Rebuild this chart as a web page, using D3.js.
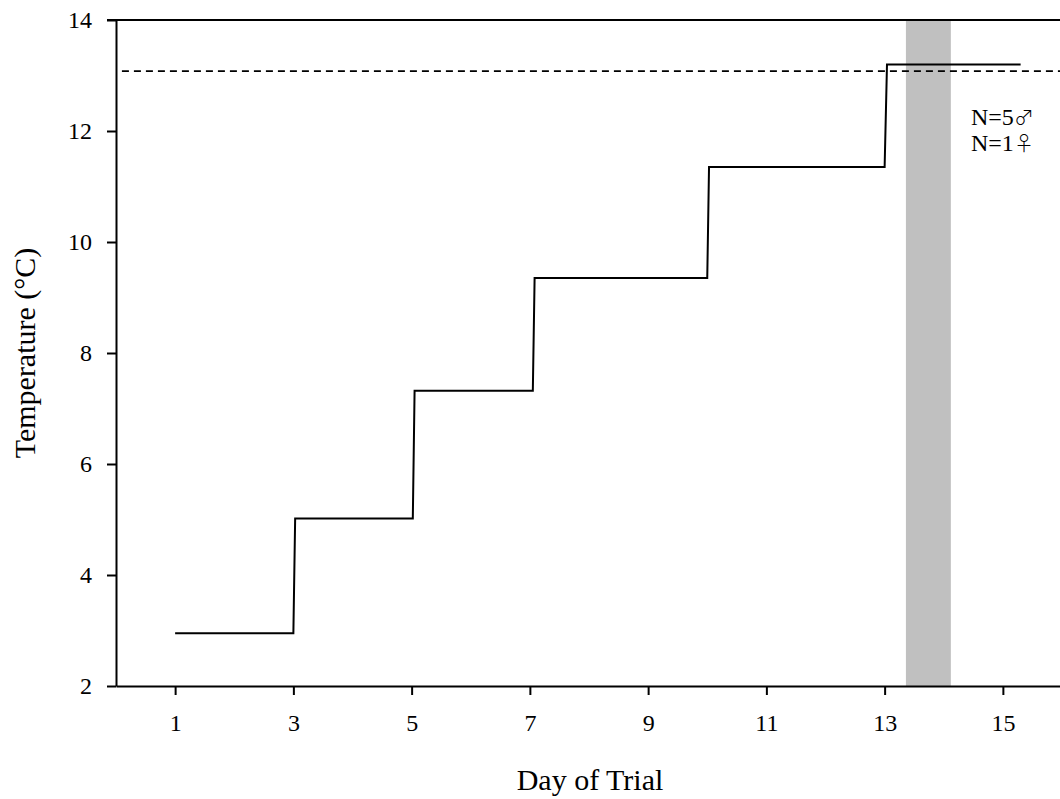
<!DOCTYPE html>
<html>
<head>
<meta charset="utf-8">
<script src="https://cdn.jsdelivr.net/npm/d3@7"></script>
<style>
  body { margin: 0; background: #fff; }
  svg text { font-family: "Liberation Serif", "Times New Roman", serif; fill: #000; }
  svg text tspan.sym { font-family: "Noto Sans CJK JP", "DejaVu Sans", sans-serif; font-weight: 300; }
</style>
</head>
<body>
<svg id="chart"></svg>
<script>
// step profile of tank temperature
var stepDays  = [1, 3.0, 3.03, 5.02, 5.05, 7.05, 7.08, 10.0, 10.03, 13.0, 13.04, 15.3];
var stepTemps = [2.95, 2.95, 5.02, 5.02, 7.32, 7.32, 9.35, 9.35, 11.35, 11.35, 13.2, 13.2];

var thresholdTemp = 13.08;
var thresholdDays = [0.1, 16];
var bandDays = [13.36, 14.12];

var xTicks = [1, 3, 5, 7, 9, 11, 13, 15];
var yTicks = [2, 4, 6, 8, 10, 12, 14];
var sampleCounts = ["N=5", "N=1"];
var sampleSymbols = ["\u2642", "\u2640"];

var drawChart = function(target)
{
    var screen = {width: 1060, height: 799};
    var margins = {top: 20, bottom: 113, left: 116, right: -2};
    var graph =
        {
            width: screen.width - margins.left - margins.right,
            height: screen.height - margins.top - margins.bottom
        };

    var svg = d3.select(target)
        .attr("width", screen.width)
        .attr("height", screen.height);

    var xScale = d3.scaleLinear()
        .domain([0, 16])
        .range([0, graph.width]);

    var yScale = d3.scaleLinear()
        .domain([2, 14])
        .range([graph.height, 0]);

    var g = svg.append("g")
        .attr("transform", "translate(" + margins.left + "," + margins.top + ")");

    // grey band
    g.append("rect")
        .attr("x", xScale(bandDays[0]))
        .attr("y", yScale(14))
        .attr("width", xScale(bandDays[1]) - xScale(bandDays[0]))
        .attr("height", yScale(2) - yScale(14))
        .attr("fill", "#c0c0c0");

    // dashed reference line
    g.append("line")
        .attr("x1", xScale(thresholdDays[0]))
        .attr("x2", xScale(thresholdDays[1]))
        .attr("y1", yScale(thresholdTemp))
        .attr("y2", yScale(thresholdTemp))
        .attr("stroke", "#000")
        .attr("stroke-width", 1.8)
        .attr("stroke-dasharray", "7,5");

    var lineGenerator = d3.line()
        .x(function(d, i) { return xScale(stepDays[i]); })
        .y(function(d) { return yScale(d); });

    g.append("path")
        .datum(stepTemps)
        .attr("d", lineGenerator)
        .attr("fill", "none")
        .attr("stroke", "#000")
        .attr("stroke-width", 2);

    // top border
    g.append("line")
        .attr("x1", -9)
        .attr("x2", graph.width)
        .attr("y1", yScale(14))
        .attr("y2", yScale(14))
        .attr("stroke", "#000")
        .attr("stroke-width", 2);

    var xAxis = d3.axisBottom(xScale)
        .tickValues(xTicks)
        .tickSize(9)
        .tickSizeOuter(0)
        .tickPadding(19);

    var yAxis = d3.axisLeft(yScale)
        .tickValues(yTicks)
        .tickSize(9)
        .tickSizeOuter(0)
        .tickPadding(15);

    var xg = g.append("g")
        .attr("transform", "translate(0," + graph.height + ")")
        .call(xAxis);

    var yg = g.append("g")
        .call(yAxis);

    [xg, yg].forEach(function(a)
    {
        a.selectAll("path, line")
            .attr("stroke", "#000")
            .attr("stroke-width", 2);
        a.selectAll("text")
            .attr("font-size", 24)
            .attr("fill", "#000");
    });

    // sample sizes
    var labels = g.selectAll(".nlabel")
        .data(sampleCounts)
        .enter()
        .append("text")
        .classed("nlabel", true)
        .attr("x", 971 - margins.left)
        .attr("y", function(d, i) { return 125 - margins.top + i * 26; })
        .attr("font-size", 24);

    labels.append("tspan")
        .text(function(d) { return d; });

    labels.append("tspan")
        .classed("sym", true)
        .attr("font-size", 20)
        .text(function(d, i) { return sampleSymbols[i]; });

    svg.append("text")
        .attr("transform", "translate(35," + (margins.top + graph.height / 2) + ") rotate(-90)")
        .attr("text-anchor", "middle")
        .attr("font-size", 30)
        .text("Temperature (\u00B0C)");

    svg.append("text")
        .attr("x", 590)
        .attr("y", 790)
        .attr("text-anchor", "middle")
        .attr("font-size", 30)
        .text("Day of Trial");
};

drawChart("#chart");
</script>
</body>
</html>
